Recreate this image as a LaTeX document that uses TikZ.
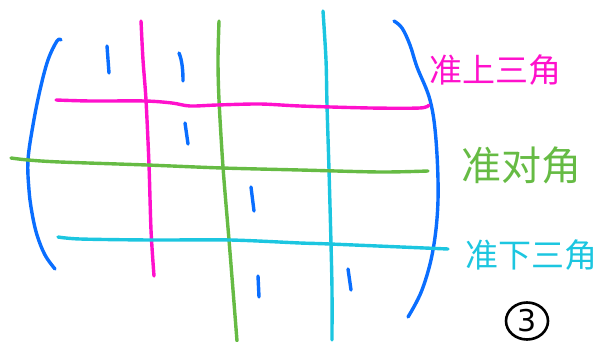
\documentclass[tikz,border=0pt]{standalone}
\usepackage{fontspec}
\usetikzlibrary{shapes.geometric}
\newfontfamily\cjk{Noto Sans CJK SC}
\setsansfont{DejaVu Sans}
\definecolor{pk}{HTML}{FF11CC}
\definecolor{gr}{HTML}{66BB44}
\definecolor{cy}{HTML}{1CC6E0}
\definecolor{bl}{HTML}{0A6EFF}
\begin{document}
\begin{tikzpicture}[x=1pt,y=-1pt,
  stroke/.style={line width=3.4pt,line cap=round,line join=round},
  tick/.style={stroke,bl},
  lbl/.style={inner sep=0pt,font=\cjk\fontsize{33}{33}\selectfont}]
\useasboundingbox (0,0) rectangle (599,342);
% brackets
\draw[stroke,bl] plot[smooth,tension=0.6] coordinates {(61,40) (57,41) (48,60) (40,90) (33,125) (28,160) (29,190) (32,213) (37,235) (45,255) (55,269)};
\draw[stroke,bl] plot[smooth,tension=0.6] coordinates {(394,21) (402,28) (410,45) (417,67) (430,100) (436,140) (438,200) (433,250) (422,290) (408,317)};
% vertical lines
\draw[stroke,pk] plot[smooth] coordinates {(141,21) (143,60) (146,100) (149,165) (151,230) (154,276)};
\draw[stroke,gr] plot[smooth] coordinates {(219,21) (218,60) (219,100) (223,167) (229,240) (233,290) (237,341)};
\draw[stroke,cy] plot[smooth] coordinates {(323,11) (326,60) (327,105) (329,170) (331,244) (332,290) (332,340)};
% horizontal lines
\draw[stroke,pk] plot[smooth] coordinates {(56,100) (90,101) (145,101) (172,103) (190,106) (217,105) (260,104) (300,106) (370,108) (420,108) (429,105)};
\draw[stroke,gr] plot[smooth] coordinates {(11,158) (28,160) (60,162) (147,165) (222,168) (300,170) (380,172) (428,171)};
\draw[stroke,cy] plot[smooth] coordinates {(58,237) (80,239) (150,240) (230,240) (300,243) (330,244) (448,249)};
% ticks
\draw[tick] (107,46) -- (109,73);
\draw[tick] (179,53) .. controls (182,60) and (183,70) .. (183,81);
\draw[tick] (185,123) -- (188,144);
\draw[tick] (251,187) -- (254,211);
\draw[tick] (258,276) -- (259,297);
\draw[tick] (348,269) -- (351,290);
% labels
\node[lbl,pk,anchor=west] (upper) at (429,70) {准上三角};
\node[lbl,gr,anchor=west,font=\cjk\fontsize{40}{40}\selectfont] (diag) at (461,165) {准对角};
\node[lbl,cy,anchor=west] (lower) at (465,255) {准下三角};
\node[draw=black,line width=2.6pt,ellipse,minimum width=42pt,minimum height=37pt,inner sep=0pt,font=\sffamily\fontsize{30}{30}\selectfont] (three) at (527,321) {3};
\end{tikzpicture}
\end{document}
